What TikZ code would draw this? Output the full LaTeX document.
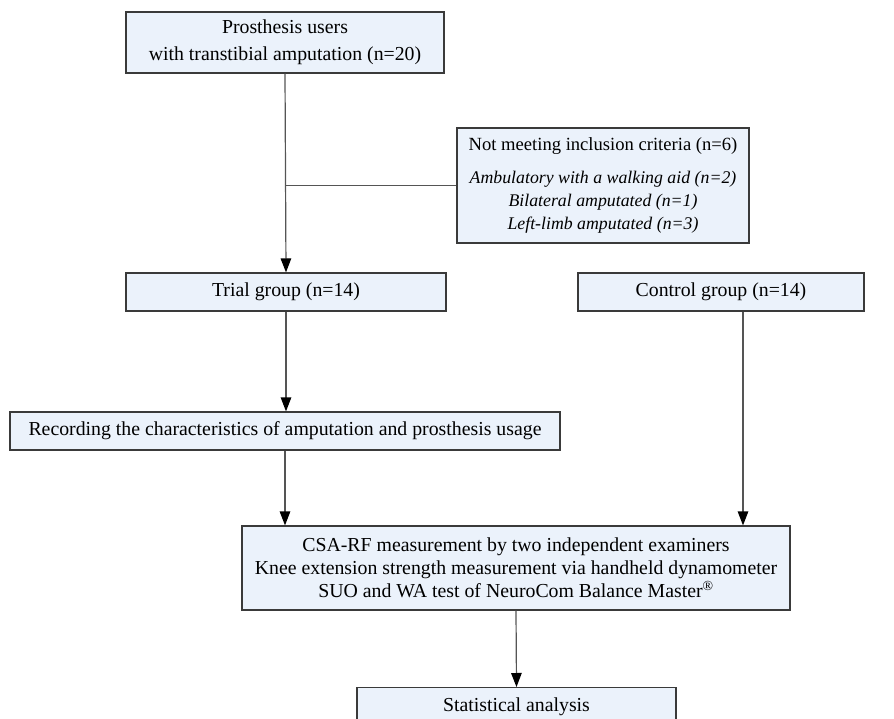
\documentclass[tikz,border=0pt]{standalone}
\usepackage{fontspec}
\setmainfont{Liberation Serif}
\usetikzlibrary{arrows.meta}

\definecolor{boxfill}{HTML}{EBF2FB}
\definecolor{boxline}{HTML}{3A3A3A}
\definecolor{edgeline}{HTML}{555555}

\newcommand{\exclhead}[1]{{\fontsize{18.6}{23}\selectfont #1}}
\newcommand{\exclitem}[1]{{\fontsize{17.8}{23.5}\selectfont\itshape #1}}

\tikzset{
  StepBox/.style   = {draw=boxline, fill=boxfill, line width=1.2pt,
                      align=center, inner sep=0pt,
                      font=\fontsize{19.8}{23}\selectfont},
  EdgeStyle/.style = {draw=edgeline, line width=1.2pt},
  ArrowStyle/.style = {EdgeStyle, -{Triangle[length=14pt, width=10.5pt, color=black]}}
}

\begin{document}
\begin{tikzpicture}[x=1pt, y=-1pt]
\useasboundingbox (0,0) rectangle (894,719);

% level 0
\node[StepBox, minimum width=318pt, minimum height=61pt] (users) at (285,42.5)
  {Prosthesis users\\[4pt] with transtibial amputation (n=20)};
\node[StepBox, minimum width=292pt, minimum height=115pt] (excl) at (603,185.5)
  {\exclhead{Not meeting inclusion criteria (n=6)}\\[10pt]
   \exclitem{Ambulatory with a walking aid (n=2)}\\
   \exclitem{Bilateral amputated (n=1)}\\
   \exclitem{Left-limb amputated (n=3)}};

% level 1
\node[StepBox, minimum width=320pt, minimum height=38pt] (trial) at (286,292)
  {Trial group (n=14)};
\node[StepBox, minimum width=286pt, minimum height=38pt] (control) at (721,292)
  {Control group (n=14)};

% level 2
\node[StepBox, minimum width=550pt, minimum height=38pt] (record) at (285,431)
  {Recording the characteristics of amputation and prosthesis usage};

% level 3
\node[StepBox, minimum width=548pt, minimum height=84pt] (csa) at (516,568)
  {CSA-RF measurement by two independent examiners\\
   Knee extension strength measurement via handheld dynamometer\\
   SUO and WA test of NeuroCom Balance Master\textsuperscript{®}};

% level 4
\node[StepBox, minimum width=319pt, minimum height=38pt, anchor=north] (stats) at (516.5,687)
  {Statistical analysis};

\coordinate (split) at (users.south |- excl.west);
\coordinate (ctl) at (743,0);

\draw[ArrowStyle] (users.south) -- (trial.north);
\draw[EdgeStyle] (split) -- (excl.west);
\draw[ArrowStyle] (trial.south) -- (trial.south |- record.north);
\draw[ArrowStyle] (record.south) -- (record.south |- csa.north);
\draw[ArrowStyle] (ctl |- control.south) -- (ctl |- csa.north);
\draw[ArrowStyle] (csa.south) -- (stats.north);

\end{tikzpicture}
\end{document}
